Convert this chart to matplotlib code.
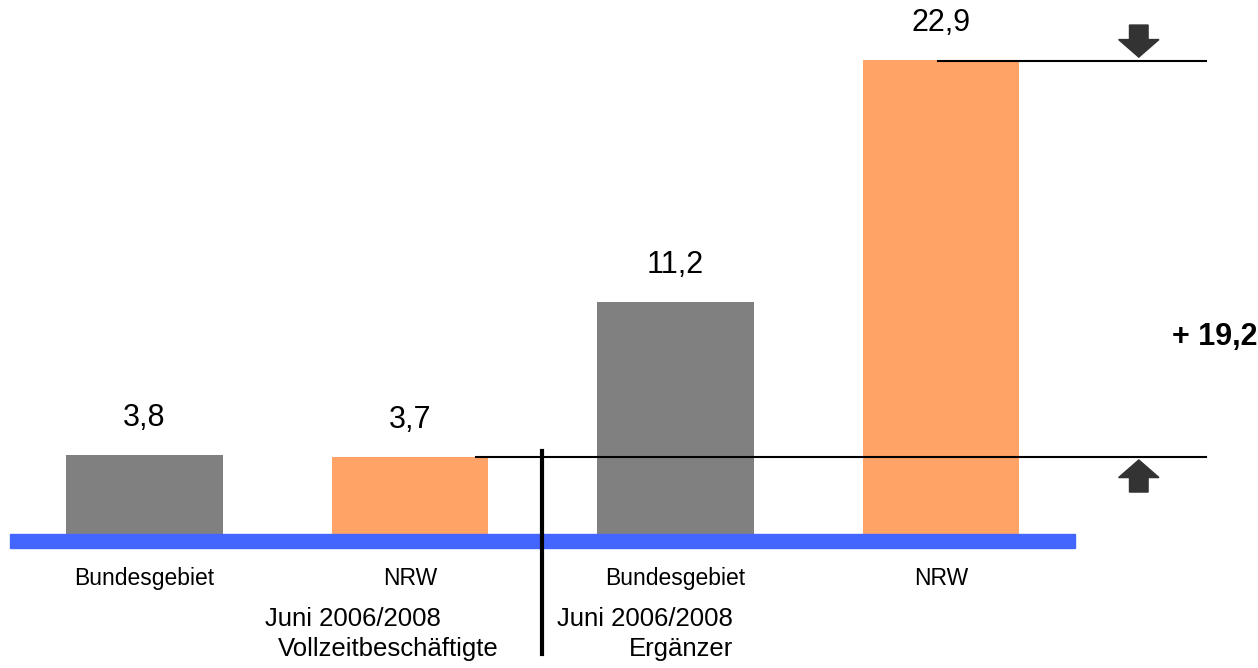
import matplotlib.pyplot as plt
from matplotlib.patches import FancyArrow, Rectangle

plt.rcParams['font.family'] = ['Liberation Sans', 'DejaVu Sans']

# Data
categories = ['Bundesgebiet', 'NRW', 'Bundesgebiet', 'NRW']
values = [3.8, 3.7, 11.2, 22.9]
value_labels = ['3,8', '3,7', '11,2', '22,9']
colors = ['#808080', '#FFA466', '#808080', '#FFA466']
group_titles = ['Juni 2006/2008', 'Juni 2006/2008']
group_names = ['Vollzeitbeschäftigte', 'Ergänzer']
diff_label = '+ 19,2'

fig = plt.figure(figsize=(12.58, 6.68), dpi=100)
ax = fig.add_axes([0, 0, 1, 1])
ax.set_xlim(-0.544, 4.194)
ax.set_ylim(-6.47, 25.80)
ax.axis('off')

x = list(range(len(values)))
ax.bar(x, values, width=0.59, color=colors, zorder=2)

# blue baseline
ax.add_patch(Rectangle((-0.507, -0.68), 4.012, 0.68, color='#4366FF', zorder=3))

for xi, v, lab in zip(x, values, value_labels):
    ax.text(xi, v + 1.8, lab, ha='center', va='center', fontsize=22)

for xi, cat in zip(x, categories):
    ax.text(xi, -2.15, cat, ha='center', va='center', fontsize=16.5)

# group labels
ax.text(0.787, -4.1, group_titles[0], ha='center', va='center', fontsize=18.5)
ax.text(0.917, -5.55, group_names[0], ha='center', va='center', fontsize=18.5)
ax.text(1.885, -4.1, group_titles[1], ha='center', va='center', fontsize=18.5)
ax.text(2.02, -5.55, group_names[1], ha='center', va='center', fontsize=18.5)

# separator line
ax.plot([1.497, 1.497], [4.0, -5.8], color='black', lw=3, zorder=4)

# reference lines
ax.plot([1.249, 4.0], [values[1], values[1]], color='black', lw=1.5, zorder=4)
ax.plot([2.99, 4.0], [values[3] - 0.05, values[3] - 0.05], color='black', lw=1.5, zorder=4)

# arrows
ax.add_patch(FancyArrow(3.745, 24.59, 0, -1.55, width=0.07, head_width=0.152,
                        head_length=0.85, length_includes_head=True,
                        color='#333333', zorder=5))
ax.add_patch(FancyArrow(3.745, 2.03, 0, 1.55, width=0.07, head_width=0.152,
                        head_length=0.85, length_includes_head=True,
                        color='#333333', zorder=5))

ax.text(4.194, 9.5, diff_label, ha='right', va='center', fontsize=22, fontweight='bold')

fig.savefig('out.png', dpi=100, facecolor='white')
